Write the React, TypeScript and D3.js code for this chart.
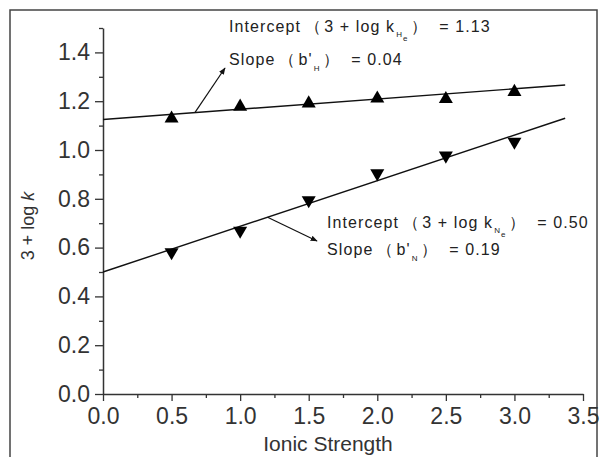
import React, { useRef, useEffect } from "react";
import * as d3 from "d3";

// ionic strength values
const strengths = [0.5, 1.0, 1.5, 2.0, 2.5, 3.0];
// 3 + log k, He (up triangles) and Ne (down triangles)
const heValues = [1.133, 1.182, 1.195, 1.215, 1.213, 1.242];
const neValues = [0.577, 0.665, 0.79, 0.9, 0.973, 1.03];

// linear fits [intercept, slope]
const heFit = [1.125, 0.042];
const neFit = [0.5, 0.187];
const fitRange = [0, 3.37];

const xTicks = [0, 0.5, 1.0, 1.5, 2.0, 2.5, 3.0, 3.5];
const xMinor = [0.25, 0.75, 1.25, 1.75, 2.25, 2.75, 3.25];
const yTicks = [0, 0.2, 0.4, 0.6, 0.8, 1.0, 1.2, 1.4];
const yMinor = [0.1, 0.3, 0.5, 0.7, 0.9, 1.1, 1.3, 1.5];

const App = () => {
    const ref = useRef<SVGSVGElement>(null);

    useEffect(() => {
        const svg = d3.select(ref.current);
        svg.selectAll("*").remove();

        const width = 600;
        const height = 457;

        svg.attr("width", width).attr("height", height).style("background", "#fff");

        const x = d3.scaleLinear().domain([0, 3.5]).range([103, 583]);
        const y = d3.scaleLinear().domain([0, 1.5]).range([394, 28]);

        // outer frame
        svg.append("rect")
            .attr("x", 10).attr("y", 10)
            .attr("width", 587).attr("height", 470)
            .attr("fill", "none")
            .attr("stroke", "#444")
            .attr("stroke-width", 1.5);

        const font = "'Liberation Sans', Arial, sans-serif";

        // minor ticks
        svg.append("g")
            .attr("transform", `translate(0,${y(0)})`)
            .call(d3.axisBottom(x).tickValues(xMinor).tickSize(4).tickFormat(() => ""))
            .call(g => g.select(".domain").remove());
        svg.append("g")
            .attr("transform", `translate(${x(0)},0)`)
            .call(d3.axisLeft(y).tickValues(yMinor).tickSize(4).tickFormat(() => ""))
            .call(g => g.select(".domain").remove());

        const xAxis = svg.append("g")
            .attr("transform", `translate(0,${y(0)})`)
            .call(d3.axisBottom(x).tickValues(xTicks).tickSize(7).tickSizeOuter(0).tickPadding(7).tickFormat(d3.format(".1f")));
        const yAxis = svg.append("g")
            .attr("transform", `translate(${x(0)},0)`)
            .call(d3.axisLeft(y).tickValues(yTicks).tickSize(8).tickSizeOuter(0).tickPadding(5).tickFormat(d3.format(".1f")));

        [xAxis, yAxis].forEach(g => {
            g.attr("font-family", font).attr("font-size", 23);
            g.selectAll("text").attr("fill", "#333");
            g.select(".domain").attr("stroke", "#333").attr("stroke-width", 1.5);
        });
        svg.selectAll("g line").attr("stroke", "#333").attr("stroke-width", 1.3);

        // axis titles
        svg.append("text")
            .attr("x", 328).attr("y", 451)
            .attr("text-anchor", "middle")
            .attr("font-family", font)
            .attr("font-size", 21)
            .attr("fill", "#333")
            .text("Ionic Strength");

        const yTitle = svg.append("text")
            .attr("transform", "translate(34,226) rotate(-90)")
            .attr("text-anchor", "middle")
            .attr("font-family", font)
            .attr("font-size", 18)
            .attr("fill", "#333");
        yTitle.append("tspan").text("3 + log ");
        yTitle.append("tspan").attr("font-style", "italic").text("k");

        // fit lines
        const line = d3.line<number[]>()
            .x(d => x(d[0]))
            .y(d => y(d[1]));
        [heFit, neFit].forEach(([b, m]) => {
            svg.append("path")
                .datum(fitRange.map(v => [v, b + m * v]))
                .attr("fill", "none")
                .attr("stroke", "#111")
                .attr("stroke-width", 1.4)
                .attr("d", line as any);
        });

        // markers
        const tri = d3.symbol().type(d3.symbolTriangle).size(85);
        svg.append("g").selectAll("path")
            .data(strengths.map((s, i) => [s, heValues[i]]))
            .enter().append("path")
            .attr("d", tri)
            .attr("transform", d => `translate(${x(d[0])},${y(d[1]) + 1})`)
            .attr("fill", "#000");
        svg.append("g").selectAll("path")
            .data(strengths.map((s, i) => [s, neValues[i]]))
            .enter().append("path")
            .attr("d", tri)
            .attr("transform", d => `translate(${x(d[0])},${y(d[1]) - 1}) rotate(180)`)
            .attr("fill", "#000");

        // arrows
        svg.append("defs").append("marker")
            .attr("id", "arrow")
            .attr("viewBox", "0 0 10 10")
            .attr("refX", 9).attr("refY", 5)
            .attr("markerWidth", 7).attr("markerHeight", 7)
            .attr("markerUnits", "userSpaceOnUse")
            .attr("orient", "auto")
            .append("path")
            .attr("d", "M0,1 L10,5 L0,9 Z")
            .attr("fill", "#111");

        const heStart = 0.67;
        const neStart = 1.2;
        svg.append("line")
            .attr("x1", x(heStart)).attr("y1", y(heFit[0] + heFit[1] * heStart))
            .attr("x2", 225).attr("y2", 68)
            .attr("stroke", "#111").attr("stroke-width", 1.2)
            .attr("marker-end", "url(#arrow)");
        svg.append("line")
            .attr("x1", x(neStart)).attr("y1", y(neFit[0] + neFit[1] * neStart))
            .attr("x2", 317).attr("y2", 241)
            .attr("stroke", "#111").attr("stroke-width", 1.2)
            .attr("marker-end", "url(#arrow)");

        // annotations
        const note = (tx, ty, parts) => {
            const t = svg.append("text")
                .attr("x", tx).attr("y", ty)
                .attr("font-family", font)
                .attr("font-size", 16)
                .attr("letter-spacing", 1.1)
                .attr("fill", "#222");
            parts.forEach(p => {
                t.append("tspan")
                    .attr("font-size", p.size || 16)
                    .attr("fill", "#222")
                    .attr("dy", p.dy || 0)
                    .attr("dx", p.dx || 0)
                    .text(p.text);
            });
        };

        note(229, 32, [
            { text: "Intercept" },
            { text: "\uFF08", dx: 4 },
            { text: "3 + log k", dx: 2 },
            { text: "H", size: 8, dy: 5, dx: 1 },
            { text: "e", size: 8, dy: 4 },
            { text: "\uFF09", dy: -9, dx: 2 },
            { text: " = 1.13", dx: 6 },
        ]);
        note(229, 65, [
            { text: "Slope" },
            { text: "\uFF08", dx: 4 },
            { text: "b'", dx: 2 },
            { text: "H", size: 8, dy: 6, dx: 1 },
            { text: "\uFF09", dy: -6, dx: 2 },
            { text: " = 0.04", dx: 6 },
        ]);
        note(327, 228, [
            { text: "Intercept" },
            { text: "\uFF08", dx: 4 },
            { text: "3 + log k", dx: 2 },
            { text: "N", size: 8, dy: 5, dx: 1 },
            { text: "e", size: 8, dy: 4 },
            { text: "\uFF09", dy: -9, dx: 2 },
            { text: " = 0.50", dx: 6 },
        ]);
        note(327, 255, [
            { text: "Slope" },
            { text: "\uFF08", dx: 4 },
            { text: "b'", dx: 2 },
            { text: "N", size: 8, dy: 6, dx: 1 },
            { text: "\uFF09", dy: -6, dx: 2 },
            { text: " = 0.19", dx: 6 },
        ]);
    }, []);

    return <svg ref={ref} style={{ position: "absolute", left: 0, top: 0 }}></svg>;
};

export default App;
